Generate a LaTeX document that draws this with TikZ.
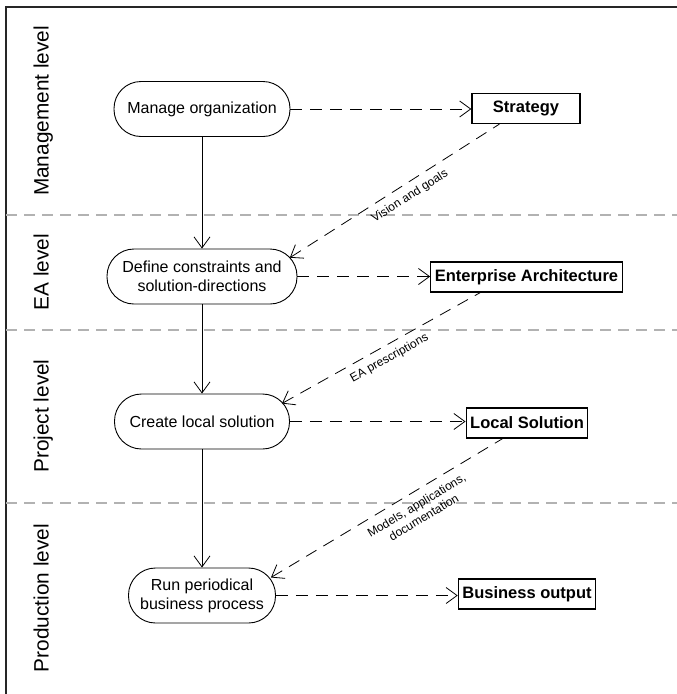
\documentclass[tikz,border=0pt]{standalone}
\usepackage{fontspec}
\setmainfont{Liberation Sans}
\usetikzlibrary{arrows.meta,calc}
\begin{document}
\begin{tikzpicture}[x=1pt,y=-1pt,
 proc/.style={draw, line width=0.9pt, rounded corners=27pt, minimum height=55pt, align=center, font=\fontsize{16}{19}\selectfont, inner sep=2pt},
 art/.style={draw, line width=1.3pt, minimum height=30pt, inner xsep=4pt, inner ysep=2pt, font=\fontsize{16.5}{19}\selectfont\bfseries},
 tipbarb/.tip={Straight Barb[length=11pt,width=16pt]},
 flow/.style={-tipbarb, line width=0.8pt},
 dashpat/.style={line width=0.8pt, dash pattern=on 12pt off 8pt},
 dep/.style={flow, dashpat},
 depback/.style={tipbarb-, dashpat},
 divider/.style={draw=black!30, line width=1.2pt, dash pattern=on 11pt off 7pt},
 level/.style={rotate=90, anchor=base, font=\fontsize{20.8}{24}\selectfont},
 lbl/.style={font=\fontsize{12}{14}\selectfont, align=center, sloped, inner sep=2pt}]

\useasboundingbox (0,0) rectangle (677,694);
\draw[line width=1.5pt, black!85] (677,7) -- (6,7) -- (6,694);

\draw[divider] (6,215) -- (677,215);
\draw[divider] (6,330) -- (677,330);
\draw[divider] (6,503) -- (677,503);

\node[level] (l1) at (48.5,111) {Management level};
\node[level] (l2) at (48.5,272) {EA level};
\node[level] (l3) at (48.5,416) {Project level};
\node[level] (l4) at (48.5,598) {Production level};

\node[proc, minimum width=176pt] (man) at (202,109) {Manage organization};
\node[proc, minimum width=190pt] (def) at (202,276.5) {Define constraints and\\solution-directions};
\node[proc, minimum width=175pt] (cre) at (202,421.5) {Create local solution};
\node[proc, minimum width=147pt] (run) at (202,595.5) {Run periodical\\business process};

\node[art, minimum width=108pt] (strat) at (526,108.5) {Strategy};
\node[art] (ea) at (526.5,277) {Enterprise Architecture};
\node[art] (loc) at (527,423) {Local Solution};
\node[art] (bus) at (527,594) {Business output};

\draw[flow] (man.south) -- (def.north);
\draw[flow] (def.south) -- (cre.north);
\draw[flow] (cre.south) -- (run.north);

\draw[dep] (man.east) -- (man.east -| strat.west);
\draw[dep] (def.east) -- (def.east -| ea.west);
\draw[dep] (cre.east) -- (cre.east -| loc.west);
\draw[dep] (run.east) -- (run.east -| bus.west);

\coordinate (s1) at ($(strat.south west)+(28,0)$);
\coordinate (s2) at ($(ea.south west)+(50,0)$);
\coordinate (s3) at ($(loc.south west)+(37,0)$);
\coordinate (e1) at ($(def.east)+(-7.6,-18.8)$);
\coordinate (e2) at ($(cre.east)+(-8,-18)$);
\coordinate (e3) at ($(run.east)+(-5,-18)$);

\draw[depback] (e1) -- node[lbl, pos=0.54, below=5pt] {Vision and goals} (s1);
\draw[depback] (e2) -- node[lbl, pos=0.51, below=5pt] {EA prescriptions} (s2);
\draw[depback] (e3) -- node[lbl, pos=0.60, below=6pt] {Models, applications,\\documentation} (s3);
\end{tikzpicture}
\end{document}
